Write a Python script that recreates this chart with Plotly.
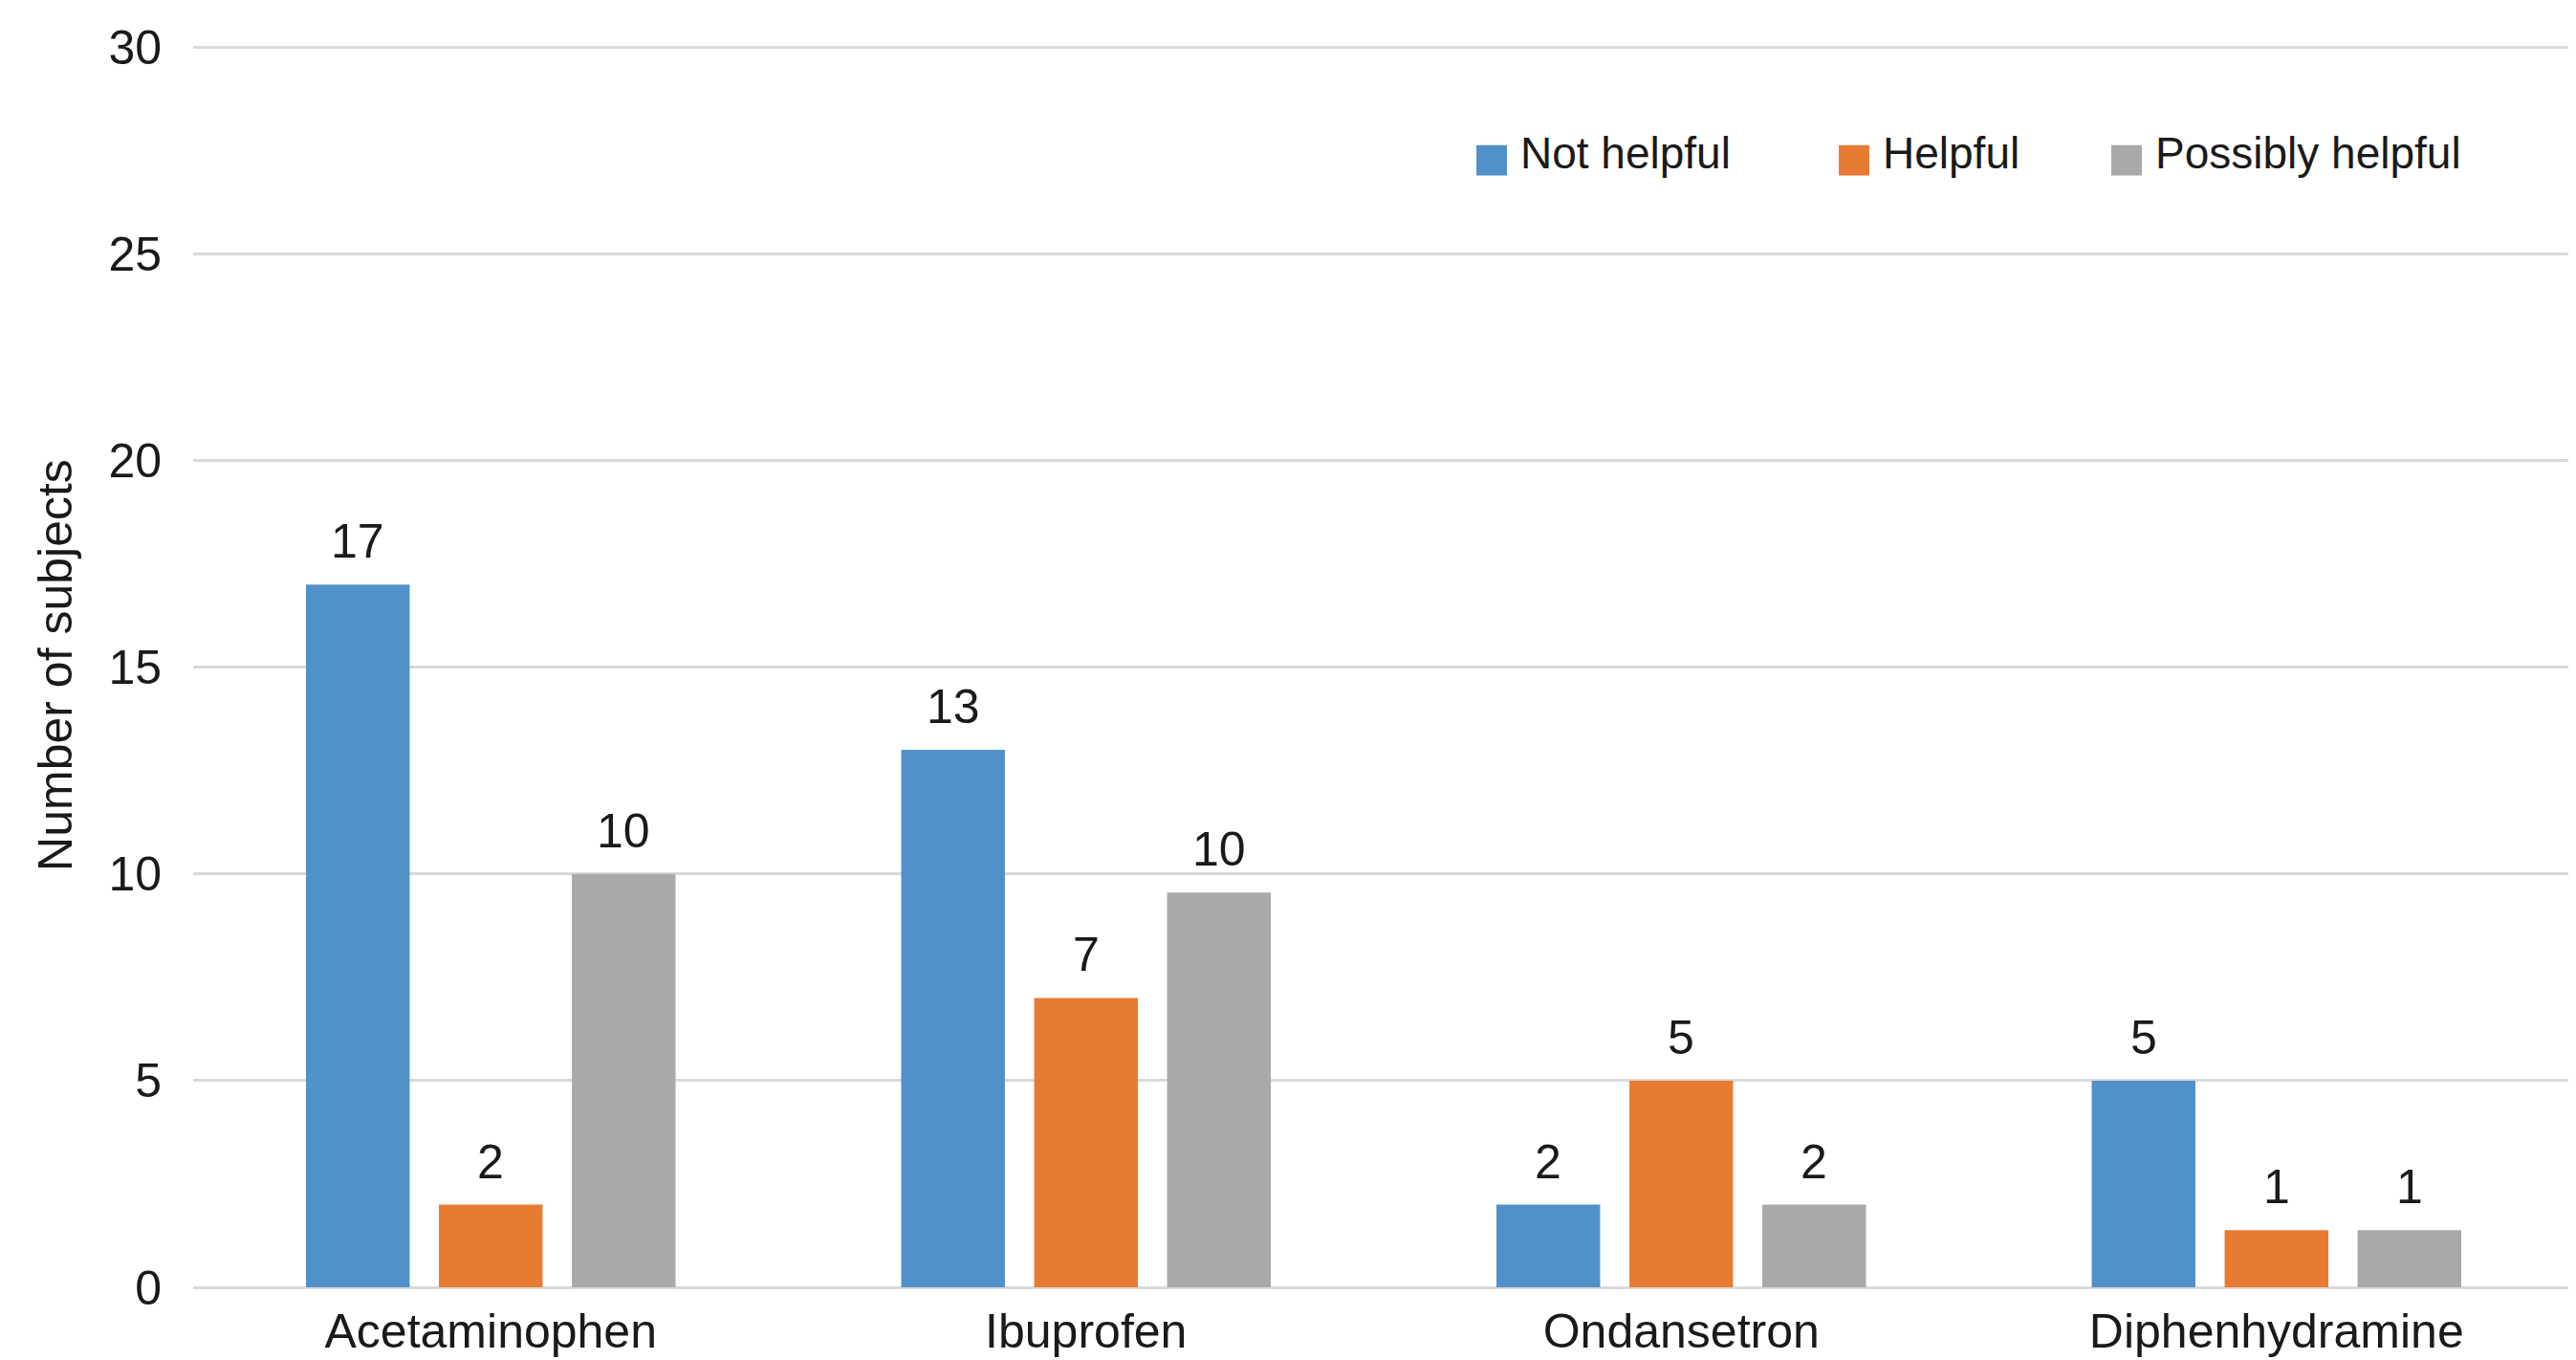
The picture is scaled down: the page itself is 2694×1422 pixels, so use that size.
import plotly.graph_objects as go

categories = ["Acetaminophen", "Ibuprofen", "Ondansetron", "Diphenhydramine"]
series_names = ["Not helpful", "Helpful", "Possibly helpful"]
# bar heights as drawn in the reference
not_helpful = [17, 13, 2, 5]
helpful = [2, 7, 5, 1.38]
possibly_helpful = [10, 9.55, 2, 1.38]
# data labels as printed in the reference
not_helpful_labels = ["17", "13", "2", "5"]
helpful_labels = ["2", "7", "5", "1"]
possibly_helpful_labels = ["10", "10", "2", "1"]
y_ticks = [0, 5, 10, 15, 20, 25, 30]

colors = ["#5191c9", "#e87b34", "#a9a9a9"]
FONT = "Liberation Sans, Arial, sans-serif"
FS = 50
LEG_FS = 46
TXT = "#1a1a1a"

W, H = 2694, 1422
Y_MAX = 30.1
ML, MR, MT, MB = 194, 10, 37, 70
PW, PH = W - ML - MR, H - MT - MB
BARGAP, BARGROUPGAP = 0.33, 0.22

series_vals = [not_helpful, helpful, possibly_helpful]
series_labs = [not_helpful_labels, helpful_labels, possibly_helpful_labels]

fig = go.Figure()
for name, vals, col in zip(series_names, series_vals, colors):
    fig.add_trace(go.Bar(
        x=categories, y=vals, name=name, showlegend=False,
        marker=dict(color=col, line=dict(width=0)),
        hoverinfo="x+y+name",
    ))

# data labels above bars, placed at (category, value) with a group offset
n = len(series_names)
slot_px = PW / len(categories) * (1 - BARGAP) / n
annotations = []
for k, (vals, labs) in enumerate(zip(series_vals, series_labs)):
    for cat, v, lab in zip(categories, vals, labs):
        annotations.append(dict(
            x=cat, y=v, xref="x", yref="y", text=lab, showarrow=False,
            xshift=(k - (n - 1) / 2) * slot_px, yshift=45,
            xanchor="center", yanchor="middle",
            font=dict(family=FONT, size=FS, color=TXT),
        ))

# legend (swatches + labels), positioned in pixels of the page
leg_sw_centers_px = [1552, 1931, 2216]
leg_sw_y_px = 161
leg_txt_y_px = 153
sw = 32
shapes = []
for name, col, cx in zip(series_names, colors, leg_sw_centers_px):
    shapes.append(dict(
        type="rect", xref="paper", yref="paper",
        x0=(cx - sw / 2 - ML) / PW, x1=(cx + sw / 2 - ML) / PW,
        y0=(H - MB - (leg_sw_y_px + sw / 2)) / PH,
        y1=(H - MB - (leg_sw_y_px - sw / 2)) / PH,
        fillcolor=col, line=dict(width=0)))
    annotations.append(dict(
        x=(cx + 28 - ML) / PW, y=(H - MB - leg_txt_y_px) / PH,
        xref="paper", yref="paper", text=name, showarrow=False,
        xanchor="left", yanchor="middle",
        font=dict(family=FONT, size=LEG_FS, color=TXT),
    ))

fig.update_layout(
    width=W, height=H,
    paper_bgcolor="white", plot_bgcolor="white",
    margin=dict(l=ML, r=MR, t=MT, b=MB),
    barmode="group", bargap=BARGAP, bargroupgap=BARGROUPGAP,
    font=dict(family=FONT, size=FS, color=TXT),
    showlegend=False,
    annotations=annotations, shapes=shapes,
)
fig.update_yaxes(
    range=[0, Y_MAX], tickvals=y_ticks, showgrid=True, gridcolor="#d9d9d9",
    gridwidth=3, zeroline=True, zerolinecolor="#d9d9d9", zerolinewidth=3,
    showline=False, ticks="", ticklabelstandoff=32,
    tickfont=dict(family=FONT, size=FS, color=TXT),
    title=dict(text="Number of subjects", standoff=21,
               font=dict(family=FONT, size=FS, color=TXT)),
)
fig.update_xaxes(
    showline=False, ticks="", showgrid=False, ticklabelstandoff=12,
    tickfont=dict(family=FONT, size=FS, color=TXT),
)

fig.write_html("out.html")
